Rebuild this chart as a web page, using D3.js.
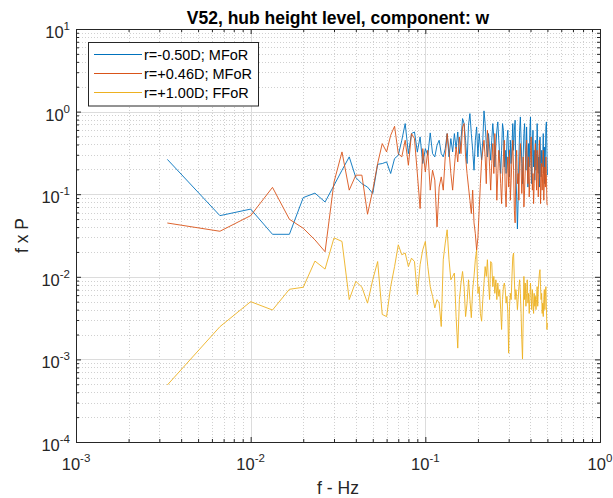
<!DOCTYPE html>
<html><head><meta charset="utf-8">
<script src="https://cdn.jsdelivr.net/npm/d3@7"></script>
<style>body{margin:0;background:#fff}svg{display:block}text{font-family:"Liberation Sans",Arial,sans-serif}</style>
</head><body><svg id="c" width="613" height="498"></svg>
<script>
const titleText = "V52, hub height level, component: w";
const xLabel = "f - Hz", yLabel = "f x P";
const seriesNames = ["r=-0.50D; MFoR", "r=+0.46D; MFoR", "r=+1.00D; FFoR"];
const seriesColors = ["#0072BD", "#D95319", "#EDB120"];
const df = 1/300; // frequency resolution (Hz), bins k = 1..150
const xTickExps = [-3, -2, -1, 0];
const yTickExps = [-4, -3, -2, -1, 0, 1];

const blue = [0.264,0.055,0.066,0.0327,0.0327,0.091,0.103,0.0805,0.128,0.195,
0.283,0.159,0.134,0.122,0.102,0.23,0.235,0.246,0.178,0.27,
0.296,0.45,0.716,0.31,0.542,0.567,0.325,0.494,0.235,0.356,
0.296,0.552,0.31,0.283,0.391,0.45,0.31,0.283,0.356,0.542,
0.283,0.471,0.325,0.542,0.356,0.567,0.31,0.45,0.823,0.716,
0.45,0.235,0.683,0.946,0.542,0.34,0.195,0.45,0.652,0.283,
0.542,0.373,0.258,0.45,1.02,0.716,0.41,0.283,0.542,0.373,
0.258,0.45,0.716,0.494,0.214,0.373,0.594,0.75,0.45,0.283,
0.178,0.34,0.716,0.594,0.214,0.34,0.178,0.45,0.594,0.283,
0.162,0.45,0.235,0.373,0.716,0.34,0.594,0.786,0.178,0.0927,
0.038,0.0845,0.283,0.594,0.862,0.45,0.235,0.134,0.283,0.542,
0.716,0.34,0.195,0.652,0.283,0.122,0.41,0.214,0.594,0.862,
0.283,0.134,0.373,0.594,0.214,0.34,0.148,0.45,0.195,0.31,
0.716,0.373,0.178,0.283,0.122,0.494,0.235,0.162,0.34,0.214,
0.283,0.542,0.178,0.373,0.134,0.283,0.652,0.75,0.34,0.17];

const orange = [0.0448,0.0356,0.055,0.121,0.0497,0.0387,0.028,0.0201,0.14,0.325,
0.112,0.17,0.17,0.0572,0.112,0.235,0.41,0.325,0.517,0.664,
0.31,0.283,0.45,0.224,0.542,0.471,0.178,0.067,0.356,0.186,
0.34,0.112,0.195,0.148,0.0402,0.122,0.162,0.112,0.283,0.542,
0.34,0.178,0.112,0.214,0.373,0.246,0.494,0.31,0.652,0.716,
0.283,0.178,0.122,0.0845,0.0582,0.112,0.045,0.0333,0.021,0.03,
0.0639,0.134,0.258,0.34,0.45,0.283,0.134,0.594,0.41,0.214,
0.112,0.235,0.41,0.178,0.542,0.283,0.0845,0.178,0.34,0.235,
0.134,0.0769,0.162,0.283,0.45,0.112,0.0701,0.178,0.283,0.122,
0.34,0.0845,0.148,0.283,0.45,0.195,0.0639,0.045,0.235,0.34,
0.134,0.178,0.0845,0.283,0.41,0.214,0.102,0.162,0.283,0.0701,
0.112,0.195,0.34,0.45,0.214,0.134,0.283,0.0927,0.162,0.34,
0.494,0.235,0.112,0.178,0.0769,0.134,0.283,0.41,0.214,0.112,
0.34,0.178,0.0927,0.214,0.45,0.283,0.0769,0.134,0.235,0.112,
0.178,0.34,0.0845,0.148,0.214,0.122,0.283,0.178,0.0769,0.0734];

const yellow = [0.00049,0.00249,0.0050,0.00396,0.00706,0.00747,0.0155,0.0124,0.0296,0.0268,
0.0053,0.0088,0.0075,0.0048,0.0092,0.0153,0.0035,0.0033,0.0076,0.0133,
0.0244,0.0185,0.0194,0.0133,0.0168,0.0153,0.0061,0.014,0.0212,0.0268,
0.0133,0.0076,0.0058,0.0042,0.0053,0.0048,0.0025,0.0161,0.0256,0.0371,
0.0161,0.0092,0.0101,0.0111,0.0033,0.00137,0.0053,0.0084,0.0116,0.0076,
0.0033,0.0048,0.0092,0.0053,0.0032,0.0070,0.0101,0.0161,0.0212,0.0063,
0.0076,0.0036,0.0029,0.0053,0.0084,0.0133,0.0101,0.0161,0.0084,0.0053,
0.0153,0.0146,0.0076,0.0101,0.0063,0.0092,0.0053,0.0084,0.0058,0.0070,
0.0040,0.0023,0.0053,0.0076,0.0084,0.0070,0.0048,0.0058,0.0036,0.00119,
0.0044,0.0063,0.0053,0.0101,0.0176,0.0194,0.0092,0.0053,0.0070,0.0058,
0.0040,0.0053,0.0076,0.0092,0.0063,0.0036,0.00173,0.00101,0.0030,0.0101,
0.0053,0.0084,0.0044,0.0063,0.0092,0.0048,0.0063,0.0036,0.0053,0.0084,
0.0058,0.0040,0.0070,0.0053,0.0036,0.0063,0.0044,0.0058,0.0040,0.0053,
0.0076,0.0044,0.0070,0.0092,0.0111,0.0122,0.0076,0.0053,0.0063,0.0036,
0.0048,0.0033,0.0053,0.0070,0.0040,0.0058,0.0076,0.0044,0.0023,0.00275];

const seriesValues = [blue, orange, yellow];

const L = 76, R = 600, T = 29, B = 442;
const svg = d3.select("#c");
const x = d3.scaleLog().domain([1e-3, 1]).range([L, R]);
const y = d3.scaleLog().domain([1e-4, 10]).range([B, T]);

const xAll = x.ticks();
const yAll = y.ticks();
const isMajor = v => Math.abs(Math.log10(v) - Math.round(Math.log10(v))) < 1e-9;
const xMaj = xAll.filter(isMajor), xMin = xAll.filter(v => !isMajor(v));
const yMaj = yAll.filter(isMajor), yMin = yAll.filter(v => !isMajor(v));

svg.append("rect").attr("x", L).attr("y", T).attr("width", R-L).attr("height", B-T).attr("fill", "#fff");

// grid
const g = svg.append("g");
g.selectAll(".xmin").data(xMin).join("line")
  .attr("x1", d => Math.round(x(d))+0.5).attr("x2", d => Math.round(x(d))+0.5).attr("y1", T).attr("y2", B)
  .attr("stroke", "#c4c4c4").attr("stroke-width", 0.8).attr("stroke-dasharray", "1,2");
g.selectAll(".ymin").data(yMin).join("line")
  .attr("y1", d => Math.round(y(d))+0.5).attr("y2", d => Math.round(y(d))+0.5).attr("x1", L).attr("x2", R)
  .attr("stroke", "#c4c4c4").attr("stroke-width", 0.8).attr("stroke-dasharray", "1,2");
g.selectAll(".xmaj").data(xMaj).join("line")
  .attr("x1", d => Math.round(x(d))+0.5).attr("x2", d => Math.round(x(d))+0.5).attr("y1", T).attr("y2", B)
  .attr("stroke", "#dcdcdc").attr("stroke-width", 1);
g.selectAll(".ymaj").data(yMaj).join("line")
  .attr("y1", d => Math.round(y(d))+0.5).attr("y2", d => Math.round(y(d))+0.5).attr("x1", L).attr("x2", R)
  .attr("stroke", "#dcdcdc").attr("stroke-width", 1);

// series
const freqs = d3.range(1, 151).map(k => k * df);
const line = d3.line().x((d, i) => x(freqs[i])).y(d => y(d));
seriesValues.forEach((vals, si) => {
  svg.append("path").datum(vals).attr("d", line).attr("fill", "none")
    .attr("stroke", seriesColors[si]).attr("stroke-width", 0.9).attr("stroke-linejoin", "round");
});

// axes (ticks inward, box)
const axC = "#262626";
function ax(gen, scale, vals, size, tr) {
  const a = svg.append("g").attr("transform", tr)
    .call(gen(scale).tickValues(vals).tickSizeInner(-size).tickSizeOuter(0).tickFormat(""));
  a.selectAll("path").attr("stroke", axC);
  a.selectAll("line").attr("stroke", axC);
  return a;
}
ax(d3.axisBottom, x, xMaj, 5, `translate(0,${B})`);
ax(d3.axisBottom, x, xMin, 3, `translate(0,${B})`);
ax(d3.axisTop, x, xMaj, 5, `translate(0,${T})`);
ax(d3.axisTop, x, xMin, 3, `translate(0,${T})`);
ax(d3.axisLeft, y, yMaj, 5, `translate(${L},0)`);
ax(d3.axisLeft, y, yMin, 3, `translate(${L},0)`);
ax(d3.axisRight, y, yMaj, 5, `translate(${R},0)`);
ax(d3.axisRight, y, yMin, 3, `translate(${R},0)`);

// tick labels
const tc = "#262626";
xTickExps.forEach(e => {
  const t = svg.append("text").attr("x", x(Math.pow(10, e))).attr("y", B + 28)
    .attr("text-anchor", "middle").attr("fill", tc).attr("font-size", 16.5);
  t.append("tspan").text("10");
  t.append("tspan").attr("dy", -8).attr("font-size", 11.5).text(e);
});
yTickExps.forEach(e => {
  const t = svg.append("text").attr("x", L - 6).attr("y", y(Math.pow(10, e)) + 9)
    .attr("text-anchor", "end").attr("fill", tc).attr("font-size", 16.5);
  t.append("tspan").text("10");
  t.append("tspan").attr("dy", -8).attr("font-size", 11.5).text(e);
});

// labels
svg.append("text").attr("x", (L+R)/2).attr("y", 23.5).attr("text-anchor", "middle")
  .attr("font-weight", "bold").attr("font-size", 17.5).attr("fill", "#000").text(titleText);
svg.append("text").attr("x", (L+R)/2).attr("y", 494).attr("text-anchor", "middle")
  .attr("font-size", 17.5).attr("fill", tc).text(xLabel);
svg.append("text").attr("transform", `translate(28,${(T+B)/2}) rotate(-90)`).attr("text-anchor", "middle")
  .attr("font-size", 17.5).attr("fill", tc).text(yLabel);

// legend
const lg = svg.append("g");
lg.append("rect").attr("x", 88.5).attr("y", 42.5).attr("width", 170).attr("height", 63.5)
  .attr("fill", "#fff").attr("stroke", axC).attr("stroke-width", 1);
seriesNames.forEach((n, i) => {
  const yy = 54.5 + i * 19;
  lg.append("line").attr("x1", 94).attr("x2", 142).attr("y1", yy).attr("y2", yy)
    .attr("stroke", seriesColors[i]).attr("stroke-width", 1);
  lg.append("text").attr("x", 144).attr("y", yy + 5).attr("font-size", 14.5).attr("fill", "#000").text(n);
});
</script></body></html>
